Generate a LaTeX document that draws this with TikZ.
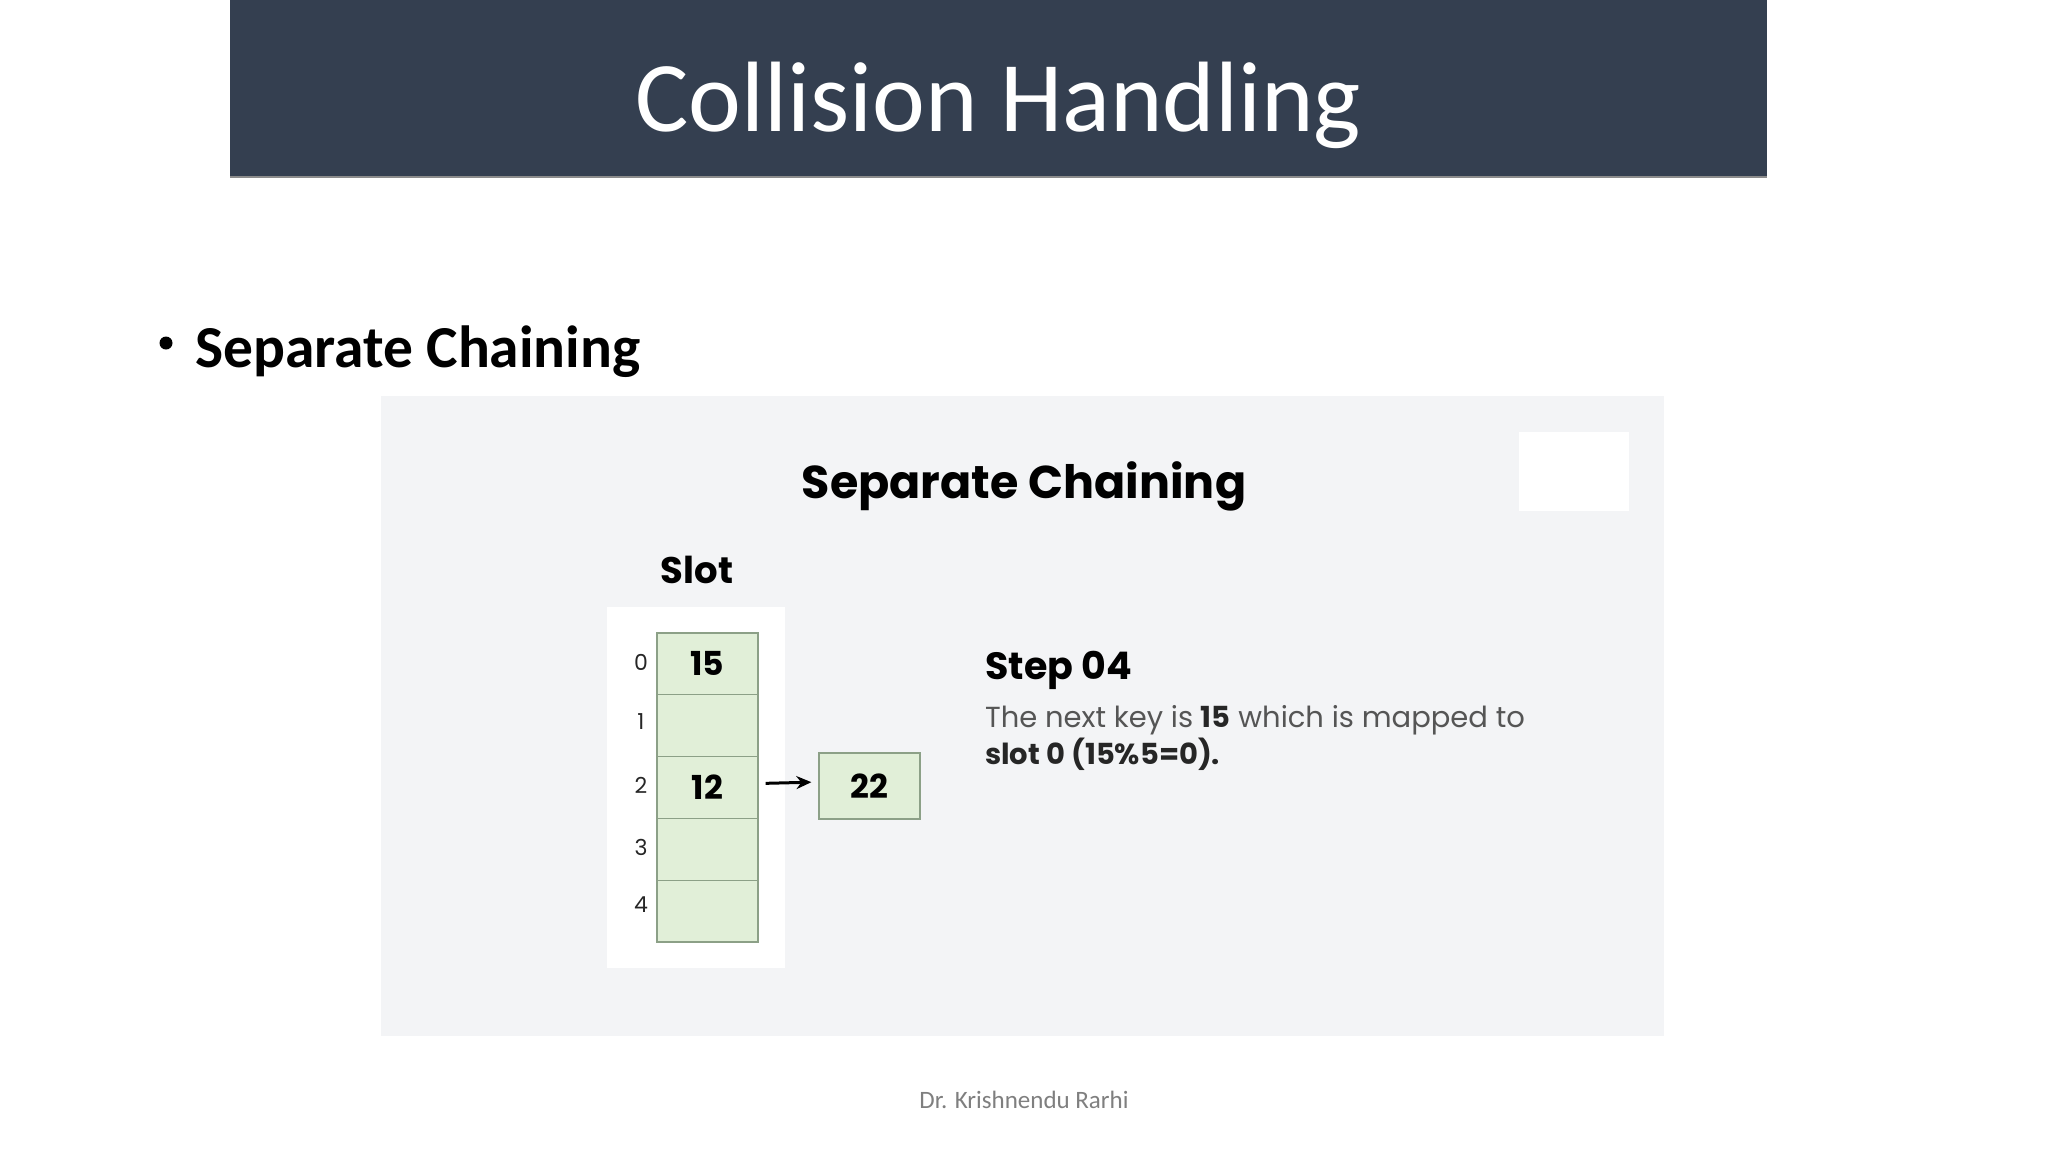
\documentclass[tikz,border=0pt]{standalone}
\usepackage{fontspec}
\setmainfont{Carlito}
\newfontfamily\pop{Poppins}
\usetikzlibrary{arrows.meta}
\definecolor{banner}{RGB}{52,63,80}
\definecolor{panelbg}{RGB}{243,244,246}
\definecolor{cellfill}{RGB}{225,239,216}
\definecolor{celldraw}{RGB}{140,160,135}
\definecolor{bodygray}{RGB}{85,85,85}
\definecolor{footgray}{RGB}{127,127,127}
\begin{document}
\begin{tikzpicture}[x=1pt,y=-1pt,
  cellbox/.style={draw=celldraw,line width=1.2pt,fill=cellfill,minimum width=101pt,minimum height=61.8pt,inner sep=0pt,
    font=\pop\bfseries\fontsize{33}{33}\selectfont},
  idxlabel/.style={font=\pop\fontsize{22}{22}\selectfont,text=black!85,inner sep=0pt},
  bodytext/.style={font=\pop\fontsize{29}{34}\selectfont,text=bodygray,inner sep=0pt,anchor=base west}
]
\useasboundingbox (0,0) rectangle (2048,1152);
\fill[white] (0,0) rectangle (2048,1152);
% title banner
\fill[banner] (230,0) rectangle (1767,178);
\fill[black!45] (230,175.5) rectangle (1767,178);
\node[anchor=base,text=white,font=\fontsize{100}{100}\selectfont,inner sep=0pt] (title) at (998.5,131) {Collision Handling};
% bullet
\node[circle,fill=black,inner sep=0pt,minimum size=13pt] (bullet) at (166,343) {};
\node[anchor=base west,font=\bfseries\fontsize{59.5}{60}\selectfont,inner sep=0pt] (btext) at (195,367) {Separate Chaining};
% panel
\fill[panelbg] (381,396) rectangle (1664,1036);
\fill[white] (1519,432) rectangle (1629,511);
\fill[white] (607,607) rectangle (785,968);
\node[anchor=base,font=\pop\bfseries\fontsize{46}{46}\selectfont,inner sep=0pt] (ptitle) at (1024,498) {Separate Chaining};
\node[anchor=base,font=\pop\bfseries\fontsize{37}{37}\selectfont,inner sep=0pt] (slot) at (697,583) {Slot};
% cells
\node[cellbox] (c0) at (707.5,663.9) {15};
\node[cellbox] (c1) at (707.5,725.7) {};
\node[cellbox] (c2) at (707.5,787.5) {12};
\node[cellbox] (c3) at (707.5,849.3) {};
\node[cellbox] (c4) at (707.5,911.1) {};
\node[idxlabel] (i0) at (641,662) {0};
\node[idxlabel] (i1) at (641,722) {1};
\node[idxlabel] (i2) at (641,785) {2};
\node[idxlabel] (i3) at (641,847) {3};
\node[idxlabel] (i4) at (641,905) {4};
\node[cellbox,minimum height=66pt] (b22) at (869.5,786) {22};
\draw[line width=3pt,-{Stealth[length=15pt,width=13pt]},shorten <=7pt,shorten >=7pt] ([yshift=4pt]c2.east) -- ([yshift=4pt]b22.west);
% step text
\node[anchor=base west,font=\pop\bfseries\fontsize{38}{38}\selectfont,inner sep=0pt] (step) at (985,679) {Step 04};
\node[bodytext] (line1) at (985,727) {The next key is {\bfseries\color{black!85}15} which is mapped to};
\node[bodytext,text=black!85,font=\pop\bfseries\fontsize{29}{34}\selectfont] (line2) at (985,764) {slot 0 (15\%5=0).};
% footer
\node[anchor=center,text=footgray,font=\fontsize{25}{25}\selectfont,inner sep=0pt] (foot) at (1024,1100) {Dr. Krishnendu Rarhi};
\end{tikzpicture}
\end{document}
